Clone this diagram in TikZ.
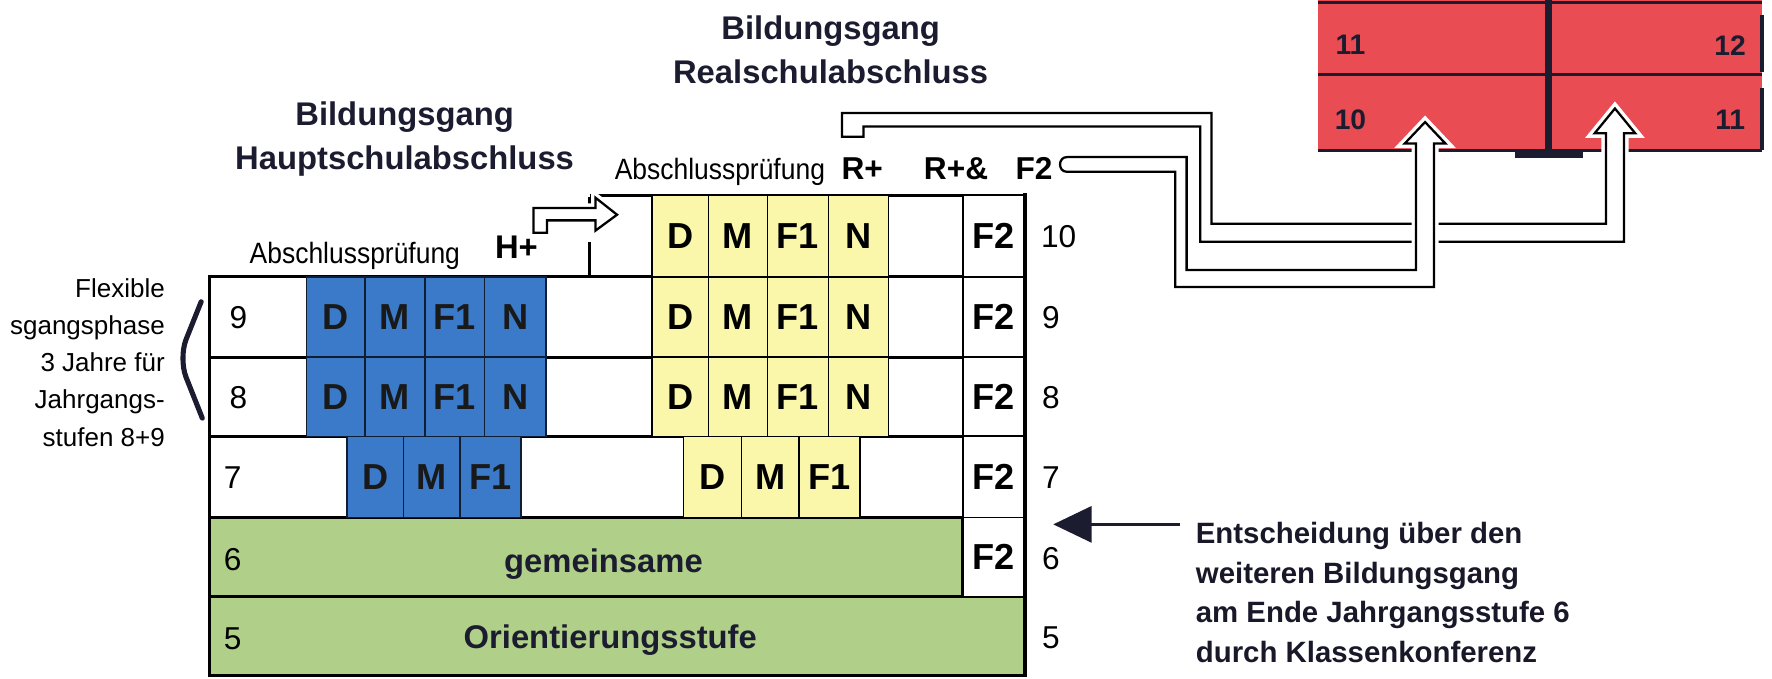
\documentclass[tikz,border=0pt]{standalone}
\usepackage{fontspec}
\setmainfont{Liberation Sans}
\newfontfamily\condfont[FakeStretch=0.9]{Liberation Sans}
\usetikzlibrary{arrows.meta}
\definecolor{cblue}{RGB}{58,122,200}
\definecolor{cyellow}{RGB}{250,247,170}
\definecolor{cgreen}{RGB}{176,207,136}
\definecolor{cred}{RGB}{233,76,82}
\definecolor{navy}{RGB}{28,28,48}
\newcommand{\fsz}[2]{\fontsize{#1}{#2}\selectfont}
\begin{document}
\begin{tikzpicture}[x=1pt,y=-1pt,
  rowfill/.style={fill=white,draw=none,inner sep=0pt,outer sep=0pt,anchor=north west},
  rowbox/.style={fill=white,draw=black,line width=2.6pt,inner sep=0pt,outer sep=0pt,anchor=north west},
  greenbox/.style={fill=cgreen,draw=black,line width=2.6pt,inner sep=0pt,outer sep=0pt,anchor=north west},
  cellb/.style={fill=cblue,draw=black!75!cblue,line width=1.2pt,inner sep=0pt,outer sep=0pt,anchor=north west,font=\fsz{32}{36}\bfseries,text=black!90},
  celly/.style={fill=cyellow,draw=black,line width=1.2pt,inner sep=0pt,outer sep=0pt,anchor=north west,font=\fsz{32}{36}\bfseries},
  cellf/.style={fill=white,draw=black,line width=1.4pt,inner sep=0pt,outer sep=0pt,anchor=north west,font=\fsz{32}{36}\bfseries},
  gridline/.style={draw=black,line width=2.6pt},
  num/.style={font=\fsz{28}{32},inner sep=0pt,anchor=west},
  rnum/.style={font=\fsz{25}{30}\bfseries,inner sep=0pt,text=navy},
  lab/.style={font=\fsz{28}{32}\bfseries,inner sep=0pt,anchor=base},
  abs/.style={font=\condfont\fsz{26}{30},inner sep=0pt,anchor=base},
  pipe/.style={draw=black,line width=2pt,fill=white,line join=miter,preaction={draw=white,line width=8pt}},
  redline/.style={draw=navy,line width=3pt}
]
\useasboundingbox (0,0) rectangle (1568,600);

% ---------------- rows ----------------
\node[rowfill,minimum width=385pt,minimum height=72pt] (row10) at (522,173) {};
\draw[gridline] (row10.north west) -- (row10.north east);
\draw[gridline] (row10.south west) -- (row10.south east);
\draw[gridline] ([yshift=-1.3pt]row10.north west) -- ++(0,6);
\draw[gridline] (row10.south west) -- ++(0,-31);
\node[rowbox,minimum width=722pt,minimum height=71pt] (row9) at (185,245) {};
\node[rowbox,minimum width=722pt,minimum height=70pt] (row8) at (185,316) {};
\node[rowbox,minimum width=722pt,minimum height=72pt] (row7) at (185,386) {};
\node[greenbox,minimum width=667pt,minimum height=70pt] (row6) at (185,458) {};
\node[greenbox,minimum width=722pt,minimum height=70pt] (row5) at (185,528) {};

% ---------------- blue cells (Hauptschule) ----------------
\foreach \r/\yt/\h in {9/245/71,8/316/70}{
  \foreach \t/\xl/\w in {D/271/52,M/323/53,F1/376/53,N/429/54}{
    \node[cellb,minimum width=\w pt,minimum height=\h pt] (b\r\t) at (\xl,\yt) {\t};
  }
}
\foreach \t/\xl/\w in {D/307/50,M/357/50,F1/407/54}{
  \node[cellb,minimum width=\w pt,minimum height=72pt] (b7\t) at (\xl,386) {\t};
}

% ---------------- yellow cells (Realschule) ----------------
\foreach \r/\yt/\h in {10/173/72,9/245/71,8/316/70}{
  \foreach \t/\xl/\w in {D/577/50,M/627/52,F1/679/54,N/733/53}{
    \node[celly,minimum width=\w pt,minimum height=\h pt] (y\r\t) at (\xl,\yt) {\t};
  }
}
\foreach \t/\xl/\w in {D/605/51,M/656/51,F1/707/54}{
  \node[celly,minimum width=\w pt,minimum height=72pt] (y7\t) at (\xl,386) {\t};
}

% ---------------- F2 column ----------------
\foreach \r/\yt/\h in {10/173/72,9/245/71,8/316/70,7/386/72,6/458/70}{
  \node[cellf,minimum width=55pt,minimum height=\h pt] (f\r) at (852,\yt) {F2};
}
\draw[line width=3.5pt] (907,171) -- (907,599);

% ---------------- row numbers ----------------
\node[num] (z10) at (921,209) {10};
\node[num] (z9) at (922,281) {9};
\node[num] (z8) at (922,352) {8};
\node[num] (z7) at (922,423) {7};
\node[num] (z6) at (922,494) {6};
\node[num] (z5) at (922,564) {5};
\node[num] (l9) at (203,281) {9};
\node[num] (l8) at (203,352) {8};
\node[num] (l7) at (198,423) {7};
\node[num] (l6) at (198,495) {6};
\node[num] (l5) at (198,565) {5};

\node[lab,font=\fsz{29}{32}\bfseries,text=navy] (gem) at (534,507) {gemeinsame};
\node[lab,font=\fsz{29}{32}\bfseries,text=navy] (ori) at (540,574) {Orientierungsstufe};

% ---------------- red box (upper school) ----------------
\fill[cred] (1166,-5) rectangle (1559,133);
\draw[redline] (1166,2) -- (1559,2);
\draw[redline] (1166,66) -- (1559,66);
\draw[redline] (1166,133) -- (1559,133);
\draw[redline,line width=6pt] (1370,-5) -- (1370,133);
\draw[redline] (1559,13) -- (1559,64);
\draw[redline] (1559,78) -- (1559,133);
\fill[navy] (1341,132) rectangle (1401,140);
\node[rnum] (r11a) at (1195,40) {11};
\node[rnum] (r12) at (1531,40) {12};
\node[rnum] (r10) at (1195,106) {10};
\node[rnum] (r11b) at (1531,106) {11};

% ---------------- hollow arrows ----------------
% R+ -> right column
\draw[pipe] (745,100) -- (1072,100) -- (1072,198) -- (1421,198) -- (1421,118) -- (1411,118)
  -- (1429,96) -- (1447,118) -- (1437,118) -- (1437,214) -- (1062,214) -- (1062,112)
  -- (764,112) -- (764,121) -- (745,121) -- cycle;
% R+& F2 -> left column
\draw[pipe] (944,139) -- (1050,139) -- (1050,239) -- (1253,239) -- (1253,127) -- (1243,127)
  -- (1261,108) -- (1279,127) -- (1269,127) -- (1269,254) -- (1040,254) -- (1040,152)
  -- (944,152) .. controls (936,152) and (936,139) .. (944,139) -- cycle;
% H+ arrow
\draw[pipe,preaction={draw=white,line width=5pt}] (472,184) -- (527,184) -- (527,175) -- (546,190)
  -- (527,204) -- (527,195) -- (484,195) -- (484,206) -- (472,206) -- cycle;

% ---------------- headings ----------------
\node[anchor=north,align=center,font=\fsz{29}{38.5}\bfseries,text=navy,inner sep=0pt] (hs) at (358,90) {Bildungsgang\\Hauptschulabschluss};
\node[anchor=north,align=center,font=\fsz{29}{38.5}\bfseries,text=navy,inner sep=0pt] (rs) at (735,14) {Bildungsgang\\Realschulabschluss};
\node[abs] (absH) at (314,233) {Abschlussprüfung};
\node[lab,font=\fsz{29}{32}\bfseries] (hplus) at (457,228.5) {H+};
\node[abs] (absR) at (637,159) {Abschlussprüfung};
\node[lab] (rplus) at (763,159) {R+};
\node[lab] (rplusand) at (846,159) {R+\&};
\node[lab] (rf2) at (915,159) {F2};

% ---------------- left note ----------------
\node[anchor=north east,align=right,font=\fsz{23}{33},inner sep=0pt] (flex) at (146,246)
  {Flexible\\sgangsphase\\3 Jahre für\\Jahrgangs-\\stufen 8+9};
\draw[navy,line width=4.5pt,line cap=round,line join=round,rounded corners=18pt] (178,267) -- (158,317) -- (179,370);

% ---------------- decision note ----------------
\node[anchor=north west,align=left,font=\fsz{26}{35}\bfseries,text=navy!85!black,inner sep=0pt] (ent) at (1058,462)
  {Entscheidung über den\\weiteren Bildungsgang\\am Ende Jahrgangsstufe 6\\durch Klassenkonferenz};
\coordinate (astart) at (1044,464);
\coordinate (atip) at (932,464);
\draw[navy,line width=2.5pt,-{Triangle[length=34pt,width=32pt]}] (astart) -- (atip);
\end{tikzpicture}
\end{document}
